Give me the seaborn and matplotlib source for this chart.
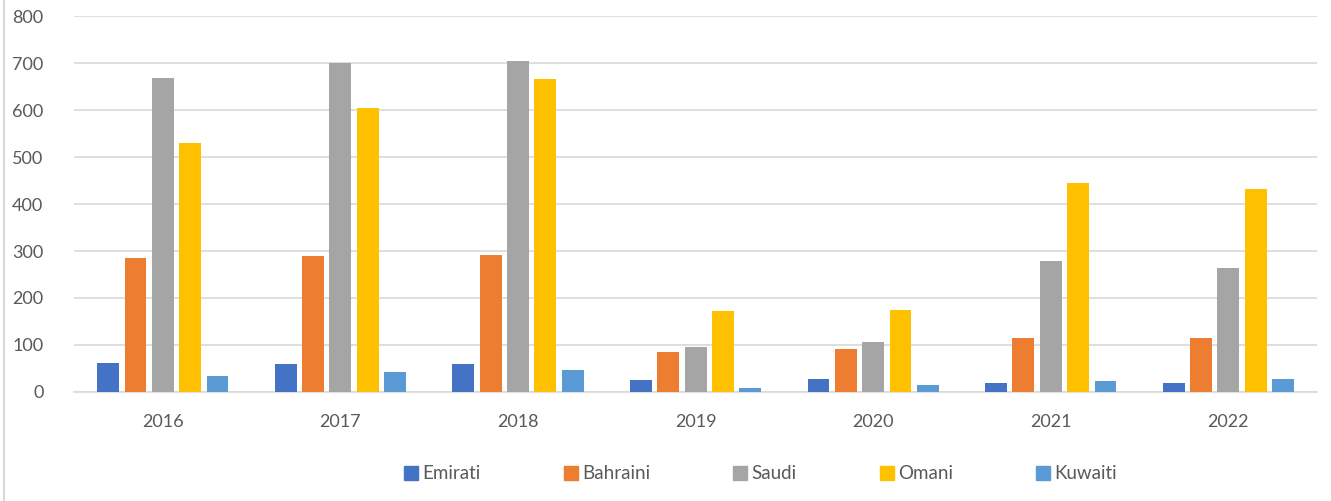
import pandas as pd
import seaborn as sns
import matplotlib.pyplot as plt
from matplotlib.lines import Line2D

years = ["2016", "2017", "2018", "2019", "2020", "2021", "2022"]
nationalities = ["Emirati", "Bahraini", "Saudi", "Omani", "Kuwaiti"]
emirati = [61, 60, 60, 26, 28, 20, 20]
bahraini = [286, 289, 292, 86, 92, 114, 114]
saudi = [669, 699, 704, 95, 106, 279, 263]
omani = [529, 605, 665, 172, 174, 444, 432]
kuwaiti = [35, 43, 47, 9, 14, 23, 27]
colors = ["#4472C4", "#ED7D31", "#A5A5A5", "#FFC000", "#5B9BD5"]

series = [emirati, bahraini, saudi, omani, kuwaiti]
rows = []
for name, vals in zip(nationalities, series):
    for y, v in zip(years, vals):
        rows.append({"year": y, "nationality": name, "value": v})
data = pd.DataFrame(rows)

sns.set_style("white")
plt.rcParams["font.family"] = ["Lato", "DejaVu Sans"]

fig = plt.figure(figsize=(13.31, 5.01), dpi=100)
ax = fig.add_axes([0.0556, 0.2176, 0.934, 0.7504])

sns.barplot(data, x="year", y="value", hue="nationality", hue_order=nationalities,
            palette=colors, width=0.77, gap=0.2, saturation=1, ax=ax,
            linewidth=0, zorder=3)

ax.set_ylim(0, 800)
ax.set_yticks(range(0, 801, 100))
ax.yaxis.grid(True, color="#d9d9d9", linewidth=1.2, zorder=0)
ax.set_axisbelow(True)
for s in ["top", "right", "left"]:
    ax.spines[s].set_visible(False)
ax.spines["bottom"].set_color("#d9d9d9")
ax.spines["bottom"].set_linewidth(1.2)
ax.tick_params(axis="both", length=0, labelsize=13, colors="#595959")
ax.tick_params(axis="y", pad=22)
ax.tick_params(axis="x", pad=16)
ax.set_xlabel("")
ax.set_ylabel("")

handles = [Line2D([], [], marker="s", linestyle="", markersize=10, color=c) for c in colors]
ax.legend(handles, nationalities, loc="upper center", bbox_to_anchor=(0.552, -0.15),
          ncol=5, frameon=False, fontsize=13.5, labelcolor="#595959",
          columnspacing=4.4, handletextpad=0.2, handlelength=0.8)

fig.add_artist(Line2D([0.003, 0.003], [0, 1], color="#d9d9d9", linewidth=1.5))

fig.savefig("out.png", dpi=100)
